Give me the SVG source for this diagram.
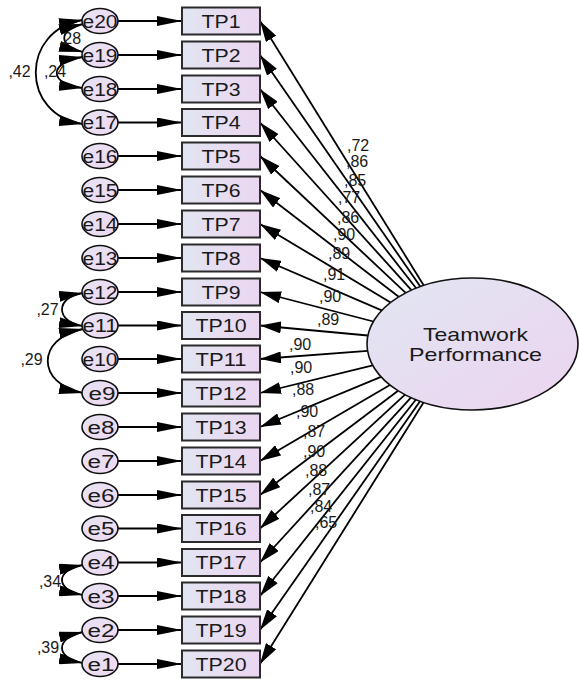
<svg xmlns="http://www.w3.org/2000/svg" width="579" height="682" viewBox="0 0 579 682">
<style>
.box{fill:url(#gb);stroke:#2b2b2b;stroke-width:2}
.err{fill:url(#ge);stroke:#111;stroke-width:1.6}
.lat{fill:url(#gl);stroke:#111;stroke-width:1.6}
.tx{font-family:"Liberation Sans",Arial,sans-serif;fill:#1a1a1a}
.t{font-size:18px;text-anchor:middle}
.w{font-size:16px}
.m{text-anchor:middle}
.c{stroke:#000;stroke-width:1.8;fill:none}
</style>
<defs>
<linearGradient id="gb" x1="0" y1="0" x2="1" y2="0"><stop offset="0" stop-color="#e2e5f1"/><stop offset="1" stop-color="#ebd6f1"/></linearGradient>
<linearGradient id="ge" x1="0" y1="0" x2="1" y2="1"><stop offset="0" stop-color="#e6e3f3"/><stop offset="1" stop-color="#efd8f1"/></linearGradient>
<linearGradient id="gl" x1="0" y1="0" x2="1" y2="1"><stop offset="0" stop-color="#e1e6f2"/><stop offset="1" stop-color="#ecd4f0"/></linearGradient>
<marker id="ah" viewBox="0 0 25 10" refX="25" refY="5" markerWidth="25" markerHeight="10" markerUnits="userSpaceOnUse" orient="auto-start-reverse"><path d="M0,0 L25,5 L0,10 z" fill="#000"/></marker>
<marker id="ac" viewBox="0 0 24 11" refX="24" refY="5.5" markerWidth="24" markerHeight="11" markerUnits="userSpaceOnUse" orient="auto-start-reverse"><path d="M0,0 L24,5.5 L0,11 z" fill="#000"/></marker>
<marker id="al" viewBox="0 0 21 12" refX="21" refY="6" markerWidth="21" markerHeight="12" markerUnits="userSpaceOnUse" orient="auto"><path d="M0,0 L21,6 L0,12 z" fill="#000"/></marker>
</defs>

<g id="connectors">
<g id="loadings" class="c" marker-end="url(#al)">
<path d="M423.8,285.5 L260,21"/>
<path d="M420.3,286.6 L260,55"/>
<path d="M416.2,288.2 L260,89"/>
<path d="M411.4,290.2 L260,122.5"/>
<path d="M405.7,292.9 L260,156"/>
<path d="M398.7,296.8 L260,190"/>
<path d="M390.6,302.4 L260,224"/>
<path d="M381.7,310.3 L260,258"/>
<path d="M373.4,321.5 L260,292"/>
<path d="M367.9,335.5 L260,325.5"/>
<path d="M367.6,350.9 L260,359"/>
<path d="M372.7,365.4 L260,393"/>
<path d="M381.0,376.8 L260,427"/>
<path d="M389.9,385.0 L260,461"/>
<path d="M398.1,390.8 L260,495"/>
<path d="M405.0,394.7 L260,528.5"/>
<path d="M410.9,397.6 L260,562.5"/>
<path d="M415.8,399.7 L260,596"/>
<path d="M420.0,401.2 L260,630"/>
<path d="M423.5,402.4 L260,664"/>
</g>
<g id="errors" class="c" marker-end="url(#ah)">
<path d="M118,21 L182,21"/>
<path d="M118,55 L182,55"/>
<path d="M118,89 L182,89"/>
<path d="M118,122.5 L182,122.5"/>
<path d="M118,156 L182,156"/>
<path d="M118,190 L182,190"/>
<path d="M118,224 L182,224"/>
<path d="M118,258 L182,258"/>
<path d="M118,292 L182,292"/>
<path d="M118,325.5 L182,325.5"/>
<path d="M118,359 L182,359"/>
<path d="M118,393 L182,393"/>
<path d="M118,427 L182,427"/>
<path d="M118,461 L182,461"/>
<path d="M118,495 L182,495"/>
<path d="M118,528.5 L182,528.5"/>
<path d="M118,562.5 L182,562.5"/>
<path d="M118,596 L182,596"/>
<path d="M118,630 L182,630"/>
<path d="M118,664 L182,664"/>
</g>
<g id="covariances" class="c" marker-start="url(#ac)" marker-end="url(#ac)">
<path d="M83,20 C20,30 20,115 83,124"/>
<path d="M83,24 C58,30 58,46 83,52"/>
<path d="M83,57 C48,62 48,84 83,88"/>
<path d="M83,293 C55,297 55,322 83,326"/>
<path d="M83,329 C36,338 36,384 83,393"/>
<path d="M83,565 C55,570 55,590 83,595"/>
<path d="M83,632 C55,638 55,658 83,663"/>
</g>
<g id="loading-labels" class="tx w">
<text x="347" y="151">,72</text>
<text x="346" y="167">,86</text>
<text x="344" y="186">,85</text>
<text x="338" y="203">,77</text>
<text x="337" y="223">,86</text>
<text x="333" y="240">,90</text>
<text x="328" y="259">,89</text>
<text x="323" y="280">,91</text>
<text x="319" y="302">,90</text>
<text x="317" y="325">,89</text>
<text x="289" y="350">,90</text>
<text x="290" y="373">,90</text>
<text x="292" y="395">,88</text>
<text x="296" y="417">,90</text>
<text x="303" y="437">,87</text>
<text x="303" y="457">,90</text>
<text x="305" y="476">,88</text>
<text x="308" y="495">,87</text>
<text x="310" y="512">,84</text>
<text x="315" y="528">,65</text>
</g>
<g id="covariance-labels" class="tx w m">
<text x="19.5" y="77">,42</text>
<text x="55" y="77">,24</text>
<text x="70" y="44">,28</text>
<text x="47.5" y="315">,27</text>
<text x="31.5" y="365">,29</text>
<text x="50" y="587">,34</text>
<text x="48" y="653">,39</text>
</g>
</g>

<g id="TeamworkPerformance"><ellipse class="lat" cx="472.5" cy="344" rx="105.5" ry="66"/><text class="tx m" x="475.5" y="341" font-size="18.5" textLength="105" lengthAdjust="spacingAndGlyphs">Teamwork</text><text class="tx m" x="475.5" y="361" font-size="18.5" textLength="133" lengthAdjust="spacingAndGlyphs">Performance</text></g>

<g id="TP1"><rect class="box" x="182" y="7.5" width="78" height="27"/><text class="tx t" x="221" y="27.5" textLength="39" lengthAdjust="spacingAndGlyphs">TP1</text></g>
<g id="TP2"><rect class="box" x="182" y="41.5" width="78" height="27"/><text class="tx t" x="221" y="61.5" textLength="39" lengthAdjust="spacingAndGlyphs">TP2</text></g>
<g id="TP3"><rect class="box" x="182" y="75.5" width="78" height="27"/><text class="tx t" x="221" y="95.5" textLength="39" lengthAdjust="spacingAndGlyphs">TP3</text></g>
<g id="TP4"><rect class="box" x="182" y="109" width="78" height="27"/><text class="tx t" x="221" y="129" textLength="39" lengthAdjust="spacingAndGlyphs">TP4</text></g>
<g id="TP5"><rect class="box" x="182" y="142.5" width="78" height="27"/><text class="tx t" x="221" y="162.5" textLength="39" lengthAdjust="spacingAndGlyphs">TP5</text></g>
<g id="TP6"><rect class="box" x="182" y="176.5" width="78" height="27"/><text class="tx t" x="221" y="196.5" textLength="39" lengthAdjust="spacingAndGlyphs">TP6</text></g>
<g id="TP7"><rect class="box" x="182" y="210.5" width="78" height="27"/><text class="tx t" x="221" y="230.5" textLength="39" lengthAdjust="spacingAndGlyphs">TP7</text></g>
<g id="TP8"><rect class="box" x="182" y="244.5" width="78" height="27"/><text class="tx t" x="221" y="264.5" textLength="39" lengthAdjust="spacingAndGlyphs">TP8</text></g>
<g id="TP9"><rect class="box" x="182" y="278.5" width="78" height="27"/><text class="tx t" x="221" y="298.5" textLength="39" lengthAdjust="spacingAndGlyphs">TP9</text></g>
<g id="TP10"><rect class="box" x="182" y="312" width="78" height="27"/><text class="tx t" x="221" y="332" textLength="51" lengthAdjust="spacingAndGlyphs">TP10</text></g>
<g id="TP11"><rect class="box" x="182" y="345.5" width="78" height="27"/><text class="tx t" x="221" y="365.5" textLength="51" lengthAdjust="spacingAndGlyphs">TP11</text></g>
<g id="TP12"><rect class="box" x="182" y="379.5" width="78" height="27"/><text class="tx t" x="221" y="399.5" textLength="51" lengthAdjust="spacingAndGlyphs">TP12</text></g>
<g id="TP13"><rect class="box" x="182" y="413.5" width="78" height="27"/><text class="tx t" x="221" y="433.5" textLength="51" lengthAdjust="spacingAndGlyphs">TP13</text></g>
<g id="TP14"><rect class="box" x="182" y="447.5" width="78" height="27"/><text class="tx t" x="221" y="467.5" textLength="51" lengthAdjust="spacingAndGlyphs">TP14</text></g>
<g id="TP15"><rect class="box" x="182" y="481.5" width="78" height="27"/><text class="tx t" x="221" y="501.5" textLength="51" lengthAdjust="spacingAndGlyphs">TP15</text></g>
<g id="TP16"><rect class="box" x="182" y="515" width="78" height="27"/><text class="tx t" x="221" y="535" textLength="51" lengthAdjust="spacingAndGlyphs">TP16</text></g>
<g id="TP17"><rect class="box" x="182" y="549" width="78" height="27"/><text class="tx t" x="221" y="569" textLength="51" lengthAdjust="spacingAndGlyphs">TP17</text></g>
<g id="TP18"><rect class="box" x="182" y="582.5" width="78" height="27"/><text class="tx t" x="221" y="602.5" textLength="51" lengthAdjust="spacingAndGlyphs">TP18</text></g>
<g id="TP19"><rect class="box" x="182" y="616.5" width="78" height="27"/><text class="tx t" x="221" y="636.5" textLength="51" lengthAdjust="spacingAndGlyphs">TP19</text></g>
<g id="TP20"><rect class="box" x="182" y="650.5" width="78" height="27"/><text class="tx t" x="221" y="670.5" textLength="51" lengthAdjust="spacingAndGlyphs">TP20</text></g>

<g id="e20"><ellipse class="err" cx="100" cy="21" rx="18" ry="12.5"/><text class="tx t" x="100" y="27.5" textLength="35" lengthAdjust="spacingAndGlyphs">e20</text></g>
<g id="e19"><ellipse class="err" cx="100" cy="55" rx="18" ry="12.5"/><text class="tx t" x="100" y="61.5" textLength="35" lengthAdjust="spacingAndGlyphs">e19</text></g>
<g id="e18"><ellipse class="err" cx="100" cy="89" rx="18" ry="12.5"/><text class="tx t" x="100" y="95.5" textLength="35" lengthAdjust="spacingAndGlyphs">e18</text></g>
<g id="e17"><ellipse class="err" cx="100" cy="122.5" rx="18" ry="12.5"/><text class="tx t" x="100" y="129" textLength="35" lengthAdjust="spacingAndGlyphs">e17</text></g>
<g id="e16"><ellipse class="err" cx="100" cy="156" rx="18" ry="12.5"/><text class="tx t" x="100" y="162.5" textLength="35" lengthAdjust="spacingAndGlyphs">e16</text></g>
<g id="e15"><ellipse class="err" cx="100" cy="190" rx="18" ry="12.5"/><text class="tx t" x="100" y="196.5" textLength="35" lengthAdjust="spacingAndGlyphs">e15</text></g>
<g id="e14"><ellipse class="err" cx="100" cy="224" rx="18" ry="12.5"/><text class="tx t" x="100" y="230.5" textLength="35" lengthAdjust="spacingAndGlyphs">e14</text></g>
<g id="e13"><ellipse class="err" cx="100" cy="258" rx="18" ry="12.5"/><text class="tx t" x="100" y="264.5" textLength="35" lengthAdjust="spacingAndGlyphs">e13</text></g>
<g id="e12"><ellipse class="err" cx="100" cy="292" rx="18" ry="12.5"/><text class="tx t" x="100" y="298.5" textLength="35" lengthAdjust="spacingAndGlyphs">e12</text></g>
<g id="e11"><ellipse class="err" cx="100" cy="325.5" rx="18" ry="12.5"/><text class="tx t" x="100" y="332" textLength="35" lengthAdjust="spacingAndGlyphs">e11</text></g>
<g id="e10"><ellipse class="err" cx="100" cy="359" rx="18" ry="12.5"/><text class="tx t" x="100" y="365.5" textLength="35" lengthAdjust="spacingAndGlyphs">e10</text></g>
<g id="e9"><ellipse class="err" cx="100" cy="393" rx="18" ry="12.5"/><text class="tx t" x="102" y="399.5" textLength="27" lengthAdjust="spacingAndGlyphs">e9</text></g>
<g id="e8"><ellipse class="err" cx="100" cy="427" rx="18" ry="12.5"/><text class="tx t" x="101" y="433.5" textLength="27" lengthAdjust="spacingAndGlyphs">e8</text></g>
<g id="e7"><ellipse class="err" cx="100" cy="461" rx="18" ry="12.5"/><text class="tx t" x="101" y="467.5" textLength="27" lengthAdjust="spacingAndGlyphs">e7</text></g>
<g id="e6"><ellipse class="err" cx="100" cy="495" rx="18" ry="12.5"/><text class="tx t" x="101" y="501.5" textLength="27" lengthAdjust="spacingAndGlyphs">e6</text></g>
<g id="e5"><ellipse class="err" cx="100" cy="528.5" rx="18" ry="12.5"/><text class="tx t" x="101" y="535" textLength="27" lengthAdjust="spacingAndGlyphs">e5</text></g>
<g id="e4"><ellipse class="err" cx="100" cy="562.5" rx="18" ry="12.5"/><text class="tx t" x="101" y="569" textLength="27" lengthAdjust="spacingAndGlyphs">e4</text></g>
<g id="e3"><ellipse class="err" cx="100" cy="596" rx="18" ry="12.5"/><text class="tx t" x="101" y="602.5" textLength="27" lengthAdjust="spacingAndGlyphs">e3</text></g>
<g id="e2"><ellipse class="err" cx="100" cy="630" rx="18" ry="12.5"/><text class="tx t" x="101" y="636.5" textLength="27" lengthAdjust="spacingAndGlyphs">e2</text></g>
<g id="e1"><ellipse class="err" cx="100" cy="664" rx="18" ry="12.5"/><text class="tx t" x="101" y="670.5" textLength="27" lengthAdjust="spacingAndGlyphs">e1</text></g>
</svg>
